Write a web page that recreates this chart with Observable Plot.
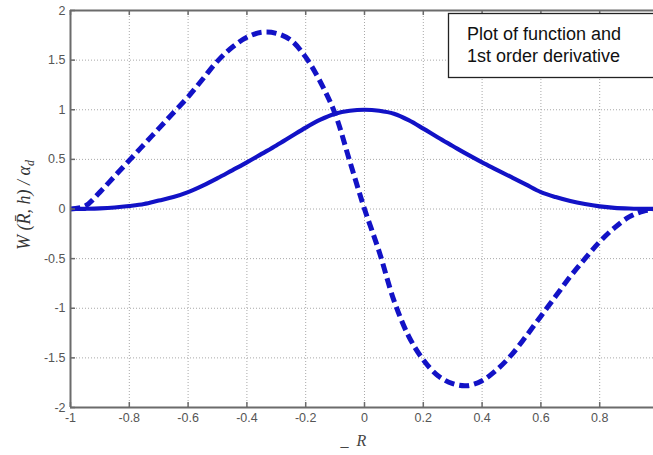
<!DOCTYPE html>
<html>
<head>
<meta charset="utf-8">
<script src="https://cdn.jsdelivr.net/npm/d3@7"></script>
<script src="https://cdn.jsdelivr.net/npm/@observablehq/plot@0.6"></script>
<style>
  html, body { margin: 0; padding: 0; background: #fff; }
  #chart { width: 653px; height: 455px; overflow: hidden; }
</style>
</head>
<body>
<div id="chart"></div>
<script>
// Normalised radius samples
const rValues = [
  -1, -0.95, -0.9, -0.85, -0.8, -0.75, -0.7, -0.65, -0.6, -0.55, -0.5,
  -0.45, -0.4, -0.35, -0.3, -0.25, -0.2, -0.15, -0.1, -0.05, 0,
  0.05, 0.1, 0.15, 0.2, 0.25, 0.3, 0.35, 0.4, 0.45, 0.5,
  0.55, 0.6, 0.65, 0.7, 0.75, 0.8, 0.85, 0.9, 0.95, 1
];
// Kernel value W / alpha_d (solid line)
const functionValues = [
  0, 0.002, 0.006, 0.015, 0.03, 0.05, 0.085, 0.12, 0.17, 0.235, 0.31,
  0.39, 0.47, 0.555, 0.64, 0.73, 0.82, 0.9, 0.96, 0.99, 1.0,
  0.99, 0.96, 0.895, 0.81, 0.72, 0.635, 0.55, 0.47, 0.395, 0.32,
  0.245, 0.17, 0.12, 0.08, 0.05, 0.027, 0.012, 0.005, 0.002, 0
];
// First order derivative (dashed line)
const derivativeValues = [
  0, 0.03, 0.17, 0.33, 0.49, 0.65, 0.81, 0.97, 1.13, 1.31, 1.49,
  1.63, 1.73, 1.78, 1.77, 1.70, 1.53, 1.28, 0.96, 0.48, 0,
  -0.43, -0.92, -1.28, -1.52, -1.68, -1.76, -1.78, -1.73, -1.62, -1.47,
  -1.28, -1.08, -0.88, -0.68, -0.50, -0.33, -0.19, -0.08, -0.02, 0
];
const xTicks = [-1, -0.8, -0.6, -0.4, -0.2, 0, 0.2, 0.4, 0.6, 0.8];
const yTicks = [-2, -1.5, -1, -0.5, 0, 0.5, 1, 1.5, 2];
const legendLines = ["Plot of function and", "1st order derivative"];

const rows = rValues.map((r, i) => ({ r, w: functionValues[i], dw: derivativeValues[i] }));

const W = 653, H = 455;
const mL = 70, mT = 10, mB = 48;
const innerW = W - mL, innerH = H - mT - mB;
const axisColor = "#6b6b6b";
const gridColor = "#a8a8a8";
const blue = "#1212c6";
const fmt = d => String(d);

const plot = Plot.plot({
  width: W,
  height: H,
  marginLeft: mL,
  marginRight: 0,
  marginTop: mT,
  marginBottom: mB,
  style: { background: "#fff", fontFamily: "'Liberation Sans', Arial, sans-serif" },
  x: { domain: [-1, 0.983] },
  y: { domain: [-2, 2] },
  marks: [
    // dotted grid
    Plot.ruleX(xTicks.filter(d => d > -1), { stroke: gridColor, strokeWidth: 1, strokeDasharray: "1,2" }),
    Plot.ruleY(yTicks.filter(d => d > -2 && d < 2), { stroke: gridColor, strokeWidth: 1, strokeDasharray: "1,2" }),
    // curves
    Plot.line(rows, { x: "r", y: "w", stroke: blue, strokeWidth: 4.2, curve: "catmull-rom", clip: true }),
    Plot.line(rows, { x: "r", y: "dw", stroke: blue, strokeWidth: 5, strokeDasharray: "10,5",
      strokeLinecap: "butt", curve: "catmull-rom", clip: true }),
    // box edges
    Plot.ruleX([-1], { stroke: axisColor, strokeWidth: 2 }),
    Plot.ruleY([-2, 2], { stroke: axisColor, strokeWidth: 2 }),
    // inward ticks
    Plot.ruleX(xTicks, { stroke: axisColor, strokeWidth: 1.5, insetTop: innerH - 5 }),
    Plot.ruleX(xTicks, { stroke: axisColor, strokeWidth: 1.5, insetBottom: innerH - 5 }),
    Plot.ruleY(yTicks, { stroke: axisColor, strokeWidth: 1.5, insetRight: innerW - 5 }),
    // tick labels
    Plot.axisX({ ticks: xTicks, tickSize: 0, tickPadding: 6, tickFormat: fmt, fontSize: 12.5, fill: "#555", label: null }),
    Plot.axisY({ ticks: yTicks, tickSize: 0, tickPadding: 5, tickFormat: fmt, fontSize: 12.5, fill: "#555", label: null })
  ]
});

document.getElementById("chart").appendChild(plot);
const svg = d3.select(plot);

// y-axis title: W(R̄, h) / α_d
const yl = svg.append("text")
  .attr("transform", "translate(30,205) rotate(-90)")
  .attr("text-anchor", "middle")
  .attr("font-family", "'Liberation Serif', 'DejaVu Serif', serif")
  .attr("font-style", "italic")
  .attr("font-size", 18)
  .attr("fill", "#333");
yl.append("tspan").text("W (R\u0304, h) / \u03b1");
yl.append("tspan").attr("font-size", 12).attr("dy", 4).text("d");

// x-axis title
const xl = svg.append("text")
  .attr("x", 340.5).attr("y", 446)
  .attr("text-anchor", "start")
  .attr("font-family", "'Liberation Serif', 'DejaVu Serif', serif")
  .attr("font-size", 16)
  .attr("fill", "#444");
xl.append("tspan").text("_");
xl.append("tspan").attr("dx", 8).attr("font-style", "italic").text("R");

// annotation box
svg.append("rect")
  .attr("x", 448.5).attr("y", 13.5)
  .attr("width", 230).attr("height", 64)
  .attr("fill", "#fff").attr("stroke", "#222").attr("stroke-width", 1.3);
svg.append("g")
  .attr("font-family", "'Liberation Sans', Arial, sans-serif")
  .attr("font-size", 18)
  .attr("text-anchor", "start")
  .attr("fill", "#111")
  .selectAll("text")
  .data(legendLines)
  .join("text")
  .attr("x", 467)
  .attr("y", (d, i) => 40 + i * 22)
  .text(d => d);
</script>
</body>
</html>
